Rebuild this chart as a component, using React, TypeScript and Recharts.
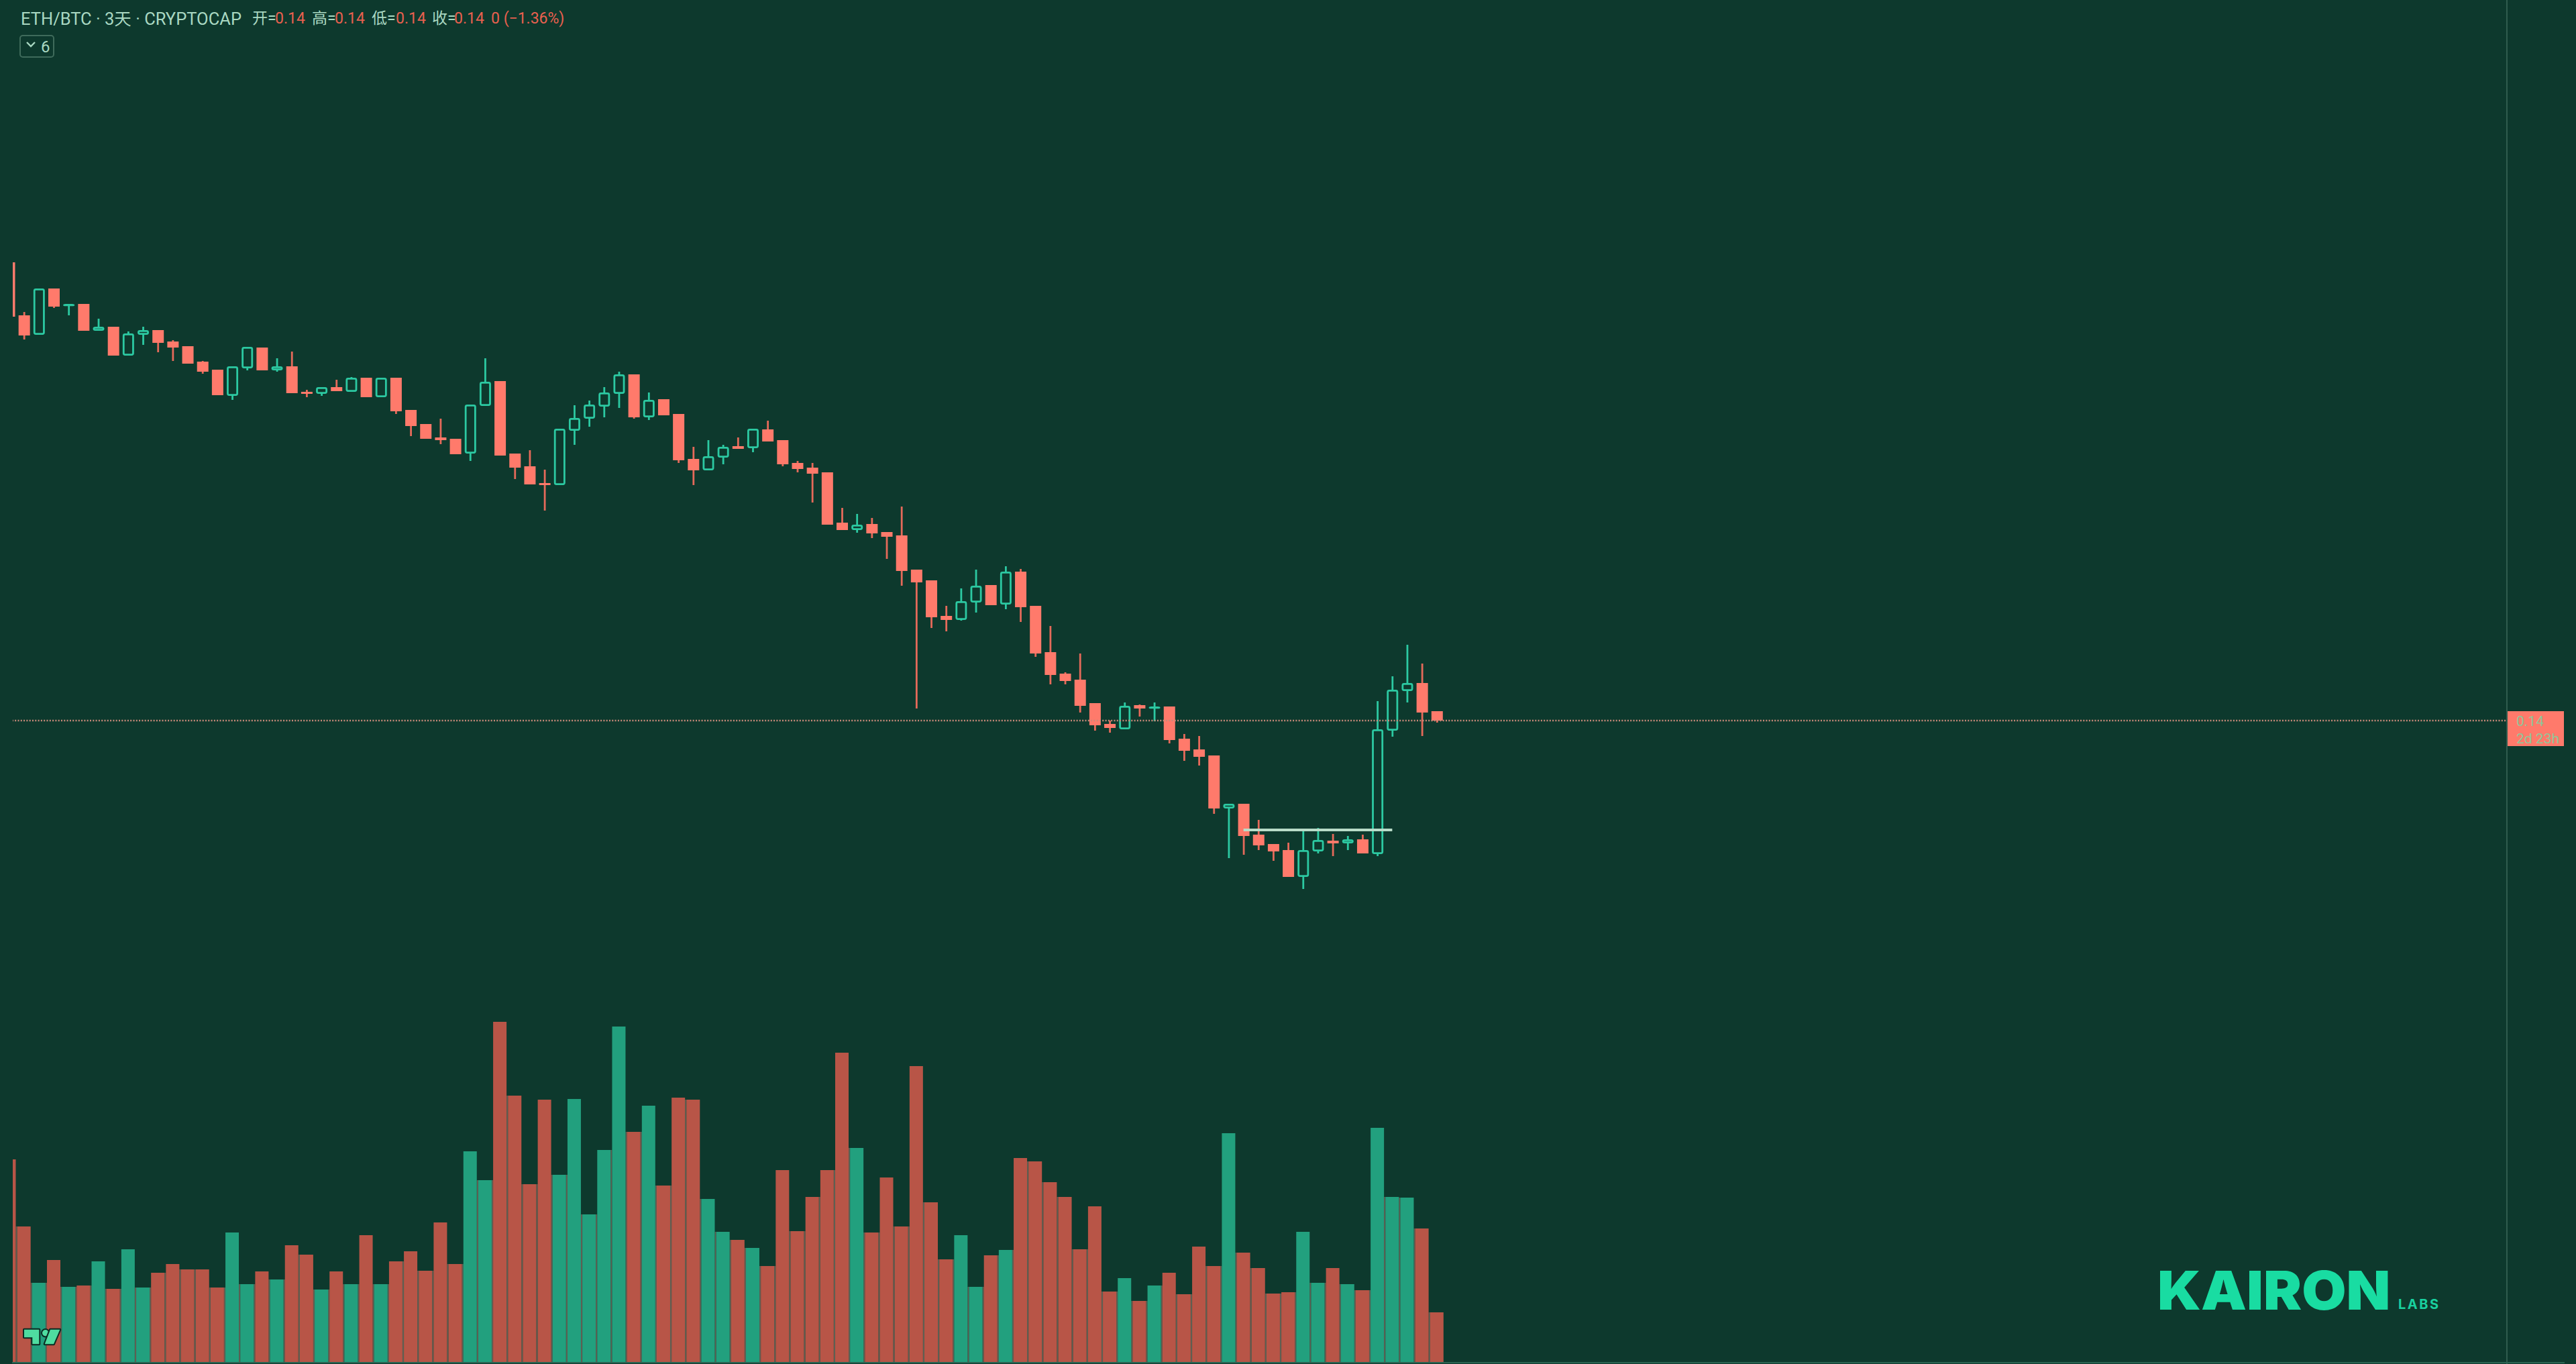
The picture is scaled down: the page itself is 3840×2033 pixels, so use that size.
import React from 'react';
import { ComposedChart, Bar, XAxis, YAxis, ReferenceLine } from 'recharts';

const BG = '#0d392d';
const UP = '#2cc9a2';
const DOWN = '#ff7a6b';
const DOWN_WICK = '#e56a5a';
const VOL_UP = '#22a07e';
const VOL_DOWN = '#b85547';
const VOL_GAP = '#5e5f52';
const LABEL = '#a9d8c2';
const LABEL_RED = '#e8604f';
const FONT = 'Roboto, "Noto Sans CJK SC", sans-serif';
const STROKE = 2.8;

const opens = [
  0.2083, 0.2004, 0.1975, 0.2044, 0.2018, 0.2021, 0.1981, 0.1987, 0.1944, 0.1975,
  0.1982, 0.1965, 0.1958, 0.1935, 0.1923, 0.1884, 0.1925, 0.1956, 0.1922, 0.1928,
  0.189, 0.1887, 0.1897, 0.189, 0.1911, 0.1882, 0.1911, 0.1863, 0.1842, 0.1822,
  0.182, 0.1798, 0.1869, 0.1906, 0.1798, 0.1779, 0.1754, 0.1751, 0.1832, 0.185,
  0.1868, 0.1887, 0.1916, 0.1852, 0.1879, 0.1857, 0.179, 0.1773, 0.1792, 0.1809,
  0.1806, 0.1834, 0.1818, 0.1784, 0.1777, 0.177, 0.1695, 0.1684, 0.1693, 0.1681,
  0.1676, 0.1625, 0.1609, 0.1556, 0.155, 0.1576, 0.1602, 0.1573, 0.1622, 0.1571,
  0.1502, 0.147, 0.1461, 0.1426, 0.1395, 0.1387, 0.1423, 0.1418, 0.1421, 0.1373,
  0.1357, 0.1348, 0.1269, 0.1276, 0.123, 0.1216, 0.1207, 0.1167, 0.1205, 0.1221,
  0.1217, 0.1223, 0.1201, 0.1385, 0.1444, 0.1456, 0.1414,
];
const highs = [
  0.2083, 0.2009, 0.2044, 0.2044, 0.2021, 0.2021, 0.1999, 0.1987, 0.198, 0.1987,
  0.1982, 0.1967, 0.1958, 0.1936, 0.1923, 0.1928, 0.1957, 0.1956, 0.194, 0.195,
  0.1893, 0.1897, 0.1908, 0.1912, 0.1911, 0.1911, 0.1911, 0.1863, 0.1842, 0.185,
  0.182, 0.1871, 0.194, 0.1906, 0.1798, 0.1803, 0.1774, 0.1835, 0.187, 0.1877,
  0.1897, 0.192, 0.1916, 0.1889, 0.1879, 0.1857, 0.1808, 0.1818, 0.1811, 0.1822,
  0.1835, 0.1847, 0.1818, 0.1787, 0.1784, 0.177, 0.1717, 0.1708, 0.1702, 0.1681,
  0.1719, 0.1625, 0.1609, 0.1571, 0.1597, 0.1625, 0.1602, 0.163, 0.1626, 0.1571,
  0.1541, 0.1472, 0.15, 0.1426, 0.14, 0.1427, 0.1424, 0.1427, 0.1421, 0.138,
  0.1377, 0.1348, 0.1276, 0.1276, 0.1252, 0.1216, 0.1218, 0.1235, 0.124, 0.1231,
  0.1228, 0.123, 0.1429, 0.1466, 0.1513, 0.1485, 0.1414,
];
const lows = [
  0.2002, 0.1968, 0.1975, 0.2015, 0.2004, 0.1981, 0.1981, 0.1944, 0.1944, 0.196,
  0.1949, 0.1936, 0.1932, 0.1917, 0.1885, 0.1878, 0.1922, 0.1922, 0.192, 0.1888,
  0.1882, 0.1884, 0.1891, 0.189, 0.1882, 0.1882, 0.1857, 0.1824, 0.182, 0.1812,
  0.1797, 0.1787, 0.1869, 0.1795, 0.176, 0.1752, 0.1713, 0.1751, 0.1811, 0.1838,
  0.1852, 0.1866, 0.185, 0.1848, 0.1855, 0.1784, 0.1751, 0.1773, 0.1782, 0.1805,
  0.18, 0.1816, 0.1779, 0.177, 0.1725, 0.1692, 0.1684, 0.168, 0.1672, 0.1641,
  0.1601, 0.1418, 0.1538, 0.1533, 0.1549, 0.1561, 0.1572, 0.1566, 0.1547, 0.1495,
  0.1454, 0.1454, 0.1412, 0.1385, 0.1382, 0.1387, 0.1406, 0.1399, 0.1366, 0.134,
  0.1333, 0.1261, 0.1195, 0.12, 0.1207, 0.1191, 0.1167, 0.1149, 0.1202, 0.1198,
  0.1207, 0.1202, 0.1198, 0.1376, 0.1427, 0.1377, 0.1397,
];
const closes = [
  0.2002, 0.1974, 0.2044, 0.2017, 0.2021, 0.1981, 0.1987, 0.1944, 0.1977, 0.1982,
  0.1963, 0.1956, 0.1932, 0.192, 0.1885, 0.1928, 0.1957, 0.1922, 0.1928, 0.1888,
  0.1887, 0.1897, 0.1891, 0.1911, 0.1882, 0.1911, 0.1861, 0.1839, 0.182, 0.1818,
  0.1797, 0.1871, 0.1905, 0.1795, 0.1777, 0.1752, 0.1751, 0.1835, 0.1851, 0.1871,
  0.1889, 0.1916, 0.1852, 0.1878, 0.1855, 0.1788, 0.1773, 0.1794, 0.1808, 0.1805,
  0.1835, 0.1816, 0.1782, 0.1775, 0.1768, 0.1692, 0.1684, 0.1692, 0.1679, 0.1674,
  0.1623, 0.1606, 0.1554, 0.155, 0.1578, 0.1601, 0.1572, 0.1622, 0.1569, 0.15,
  0.1468, 0.1459, 0.1422, 0.1393, 0.1389, 0.1422, 0.1418, 0.1421, 0.1371, 0.1355,
  0.1346, 0.1269, 0.1276, 0.1228, 0.1214, 0.1205, 0.1167, 0.1207, 0.1222, 0.1217,
  0.1223, 0.1202, 0.1387, 0.1446, 0.1456, 0.1412, 0.14,
];
const volumes = [
  302, 202, 118, 152, 112, 114, 150, 109, 168, 111,
  133, 146, 138, 138, 111, 193, 116, 135, 123, 174,
  160, 108, 135, 116, 189, 116, 150, 165, 136, 208,
  146, 314, 271, 507, 397, 265, 391, 279, 392, 220,
  316, 500, 343, 382, 263, 394, 391, 243, 194, 182,
  170, 143, 286, 195, 246, 286, 461, 319, 193, 275,
  202, 441, 238, 153, 189, 112, 159, 167, 304, 299,
  268, 246, 168, 232, 105, 125, 91, 114, 133, 101,
  172, 143, 341, 163, 140, 102, 104, 194, 118, 140,
  116, 107, 349, 246, 245, 199, 74,
];

// empty slots to the right of the last candle
const FUTURE_SLOTS = 75;
const lastPrice = 0.14;
const rangeLevel = 0.1237;
const rangeFrom = 83;
const rangeTo = 93;
const priceLineEnd = 168;

const rows: any[] = opens.map((open, i) => ({
  slot: i,
  open,
  high: highs[i],
  low: lows[i],
  close: closes[i],
  range: [lows[i], highs[i]],
  volume: volumes[i],
}));
for (let i = 0; i < FUTURE_SLOTS; i++) {
  rows.push({ slot: opens.length + i });
}

function Candle({ x, y, width, height, payload }: any) {
  if (!payload || payload.high === undefined) return null;
  const { open, close, high, low } = payload;
  const up = close >= open;
  const pxPerUnit = height / (high - low);
  const top = y + (high - Math.max(open, close)) * pxPerUnit;
  const bottom = y + (high - Math.min(open, close)) * pxPerUnit;
  const mid = x + width / 2;
  const color = up ? UP : DOWN;
  const wick = up ? UP : DOWN_WICK;
  return (
    <g>
      <line x1={mid} x2={mid} y1={y} y2={top} stroke={wick} strokeWidth={STROKE} />
      <line x1={mid} x2={mid} y1={bottom} y2={y + height} stroke={wick} strokeWidth={STROKE} />
      {up ? (
        <rect
          x={x + STROKE / 2}
          y={top + STROKE / 2}
          width={width - STROKE}
          height={Math.max(bottom - top - STROKE, 0.5)}
          rx={2}
          fill='none'
          stroke={color}
          strokeWidth={STROKE}
        />
      ) : (
        <rect x={x} y={top} width={width} height={Math.max(bottom - top, 2)} fill={color} />
      )}
    </g>
  );
}

function VolumeBar({ x, y, width, height, payload }: any) {
  if (!payload || payload.volume === undefined) return null;
  const fill = payload.close >= payload.open ? VOL_UP : VOL_DOWN;
  // the seam to the next bar only shows as far up as the shorter of the two
  const next = volumes[payload.slot + 1] ?? 0;
  const seam = (Math.min(payload.volume, next) / payload.volume) * height;
  return (
    <g>
      <rect x={x + width} y={y + height - seam} width={2.2} height={seam} fill={VOL_GAP} />
      <rect x={x} y={y} width={width} height={height} fill={fill} />
    </g>
  );
}

function Txt({ x, cy, size, color, children, style }: any) {
  return (
    <div
      style={{
        position: 'absolute',
        left: x,
        top: cy - size,
        lineHeight: `${size * 2}px`,
        fontSize: size,
        fontFamily: FONT,
        color,
        whiteSpace: 'nowrap',
        ...style,
      }}
    >
      {children}
    </div>
  );
}

export default function App() {
  return (
    <div
      style={{
        position: 'absolute',
        left: 0,
        top: 0,
        width: 3840,
        height: 2033,
        background: BG,
        overflow: 'hidden',
      }}
    >
      <ComposedChart
        width={3840}
        height={2033}
        data={rows}
        margin={{ top: 0, right: 24.3, bottom: 3, left: 2.5 }}
        barGap={0}
      >
        <XAxis xAxisId='candles' dataKey='slot' hide />
        <XAxis xAxisId='vol' dataKey='slot' hide />
        <YAxis yAxisId='price' domain={[0.0444, 0.2474]} hide allowDataOverflow />
        <YAxis yAxisId='volume' domain={[0, 2030]} hide allowDataOverflow />
        <ReferenceLine
          xAxisId='candles'
          yAxisId='price'
          segment={[
            { x: rangeFrom, y: rangeLevel },
            { x: rangeTo, y: rangeLevel },
          ]}
          stroke='#b9dcc8'
          strokeWidth={4}
        />
        <Bar
          xAxisId='vol'
          yAxisId='volume'
          dataKey='volume'
          barSize={20}
          shape={VolumeBar}
          isAnimationActive={false}
        />
        <Bar
          xAxisId='candles'
          yAxisId='price'
          dataKey='range'
          barSize={17}
          shape={Candle}
          isAnimationActive={false}
        />
        <ReferenceLine
          xAxisId='candles'
          yAxisId='price'
          segment={[
            { x: 0, y: lastPrice },
            { x: priceLineEnd, y: lastPrice },
          ]}
          stroke='#c98a7a'
          strokeWidth={2.4}
          strokeDasharray='2 2.3'
        />
      </ComposedChart>

      {/* pane edges */}
      <div style={{ position: 'absolute', left: 0, top: 0, width: 18.5, height: 2033, background: BG }} />
      <div style={{ position: 'absolute', left: 3736, top: 0, width: 2, height: 2033, background: '#2f5c4e' }} />
      <div style={{ position: 'absolute', left: 18, top: 2030, width: 3805, height: 2, background: '#2a6452' }} />

      {/* header */}
      <Txt x={31} cy={28} size={25.5} color={LABEL}>ETH/BTC · 3天 · CRYPTOCAP</Txt>
      <Txt x={376} cy={28} size={23} color={LABEL}>开=</Txt>
      <Txt x={410} cy={28} size={23} color={LABEL_RED}>0.14</Txt>
      <Txt x={465} cy={28} size={23} color={LABEL}>高=</Txt>
      <Txt x={499} cy={28} size={23} color={LABEL_RED}>0.14</Txt>
      <Txt x={554} cy={28} size={23} color={LABEL}>低=</Txt>
      <Txt x={590} cy={28} size={23} color={LABEL_RED}>0.14</Txt>
      <Txt x={644} cy={28} size={23} color={LABEL}>收=</Txt>
      <Txt x={677} cy={28} size={23} color={LABEL_RED}>0.14</Txt>
      <Txt x={732} cy={28} size={23} color={LABEL_RED}>0 (−1.36%)</Txt>
      <div
        style={{
          position: 'absolute',
          left: 29,
          top: 52,
          width: 52,
          height: 34,
          border: '2px solid #3f6b5b',
          borderRadius: 5,
          boxSizing: 'border-box',
        }}
      />
      <svg style={{ position: 'absolute', left: 38, top: 60 }} width={16} height={12}>
        <path d='M2 3 L8 9 L14 3' fill='none' stroke={LABEL} strokeWidth={2.4} />
      </svg>
      <Txt x={61} cy={70} size={24} color={LABEL}>6</Txt>

      {/* last price tag */}
      <div style={{ position: 'absolute', left: 3738, top: 1060, width: 84, height: 52, background: DOWN }} />
      <Txt x={3751} cy={1075} size={21} color='#8fc79a'>0.14</Txt>
      <Txt x={3751} cy={1101} size={21} color='#8fc79a'>2d 23h</Txt>

      {/* tradingview mark */}
      <svg style={{ position: 'absolute', left: 32, top: 1975 }} width={64} height={38}>
        <g fill='#4fdca0' stroke='#0b2a22' strokeWidth={4} paintOrder='stroke' strokeLinejoin='round'>
          <path d='M4 6.7 H26.3 V28.3 H16.3 V18.3 H4 Z' />
          <circle cx={35.7} cy={11.7} r={4.7} />
          <path d='M43 6.7 H57.3 L48 28.3 H34.7 Z' />
        </g>
      </svg>

      {/* watermark */}
      <Txt
        x={3216}
        cy={1923}
        size={80}
        color='#19dca2'
        style={{
          fontFamily: 'Inter, sans-serif',
          fontWeight: 900,
          transform: 'scaleX(1.07)',
          transformOrigin: 'left center',
        }}
      >
        KAIRON
      </Txt>
      <Txt
        x={3575}
        cy={1944}
        size={20}
        color='#19d09f'
        style={{ fontFamily: 'Inter, sans-serif', fontWeight: 700, letterSpacing: 2.5 }}
      >
        LABS
      </Txt>
    </div>
  );
}
